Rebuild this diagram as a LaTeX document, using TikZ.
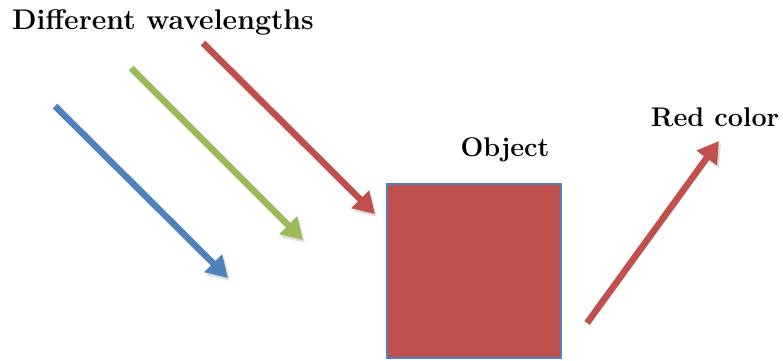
\documentclass[tikz,border=0pt]{standalone}
\usetikzlibrary{arrows.meta}
\definecolor{ablue}{HTML}{4F81BD}
\definecolor{agreen}{HTML}{9BBB59}
\definecolor{ared}{HTML}{C0504D}
\begin{document}
\begin{tikzpicture}[x=1pt,y=-1pt,
  ray/.style={line width=6.5pt,-{Triangle[length=21pt,width=24pt]},
    preaction={draw=black,opacity=0.12,transform canvas={shift={(2pt,-3pt)}}}},
  lbl/.style={font=\fontsize{27}{31}\selectfont\bfseries,inner sep=0pt}]
\useasboundingbox (0,0) rectangle (783,360);
\node[lbl,font=\fontsize{28.4}{32}\selectfont\bfseries,anchor=west] (dw) at (12,22) {Different wavelengths};
\node[lbl] (objl) at (505,150) {Object};
\node[lbl] (rc) at (715,117) {Red color};
\node[draw=ablue,line width=1.5pt,fill=ared,minimum width=174pt,minimum height=174pt,inner sep=0pt] (obj) at (474,271) {};
\coordinate (b1) at (55,106); \coordinate (b2) at (228,278);
\coordinate (g1) at (131,68); \coordinate (g2) at (303,240);
\coordinate (r1) at (203,43); \coordinate (r2) at (375,214);
\coordinate (o1) at (587,323); \coordinate (o2) at (719,141);
\draw[ray,ablue] (b1) -- (b2);
\draw[ray,agreen] (g1) -- (g2);
\draw[ray,ared] (r1) -- (r2);
\draw[ray,ared] (o1) -- (o2);
\end{tikzpicture}
\end{document}
